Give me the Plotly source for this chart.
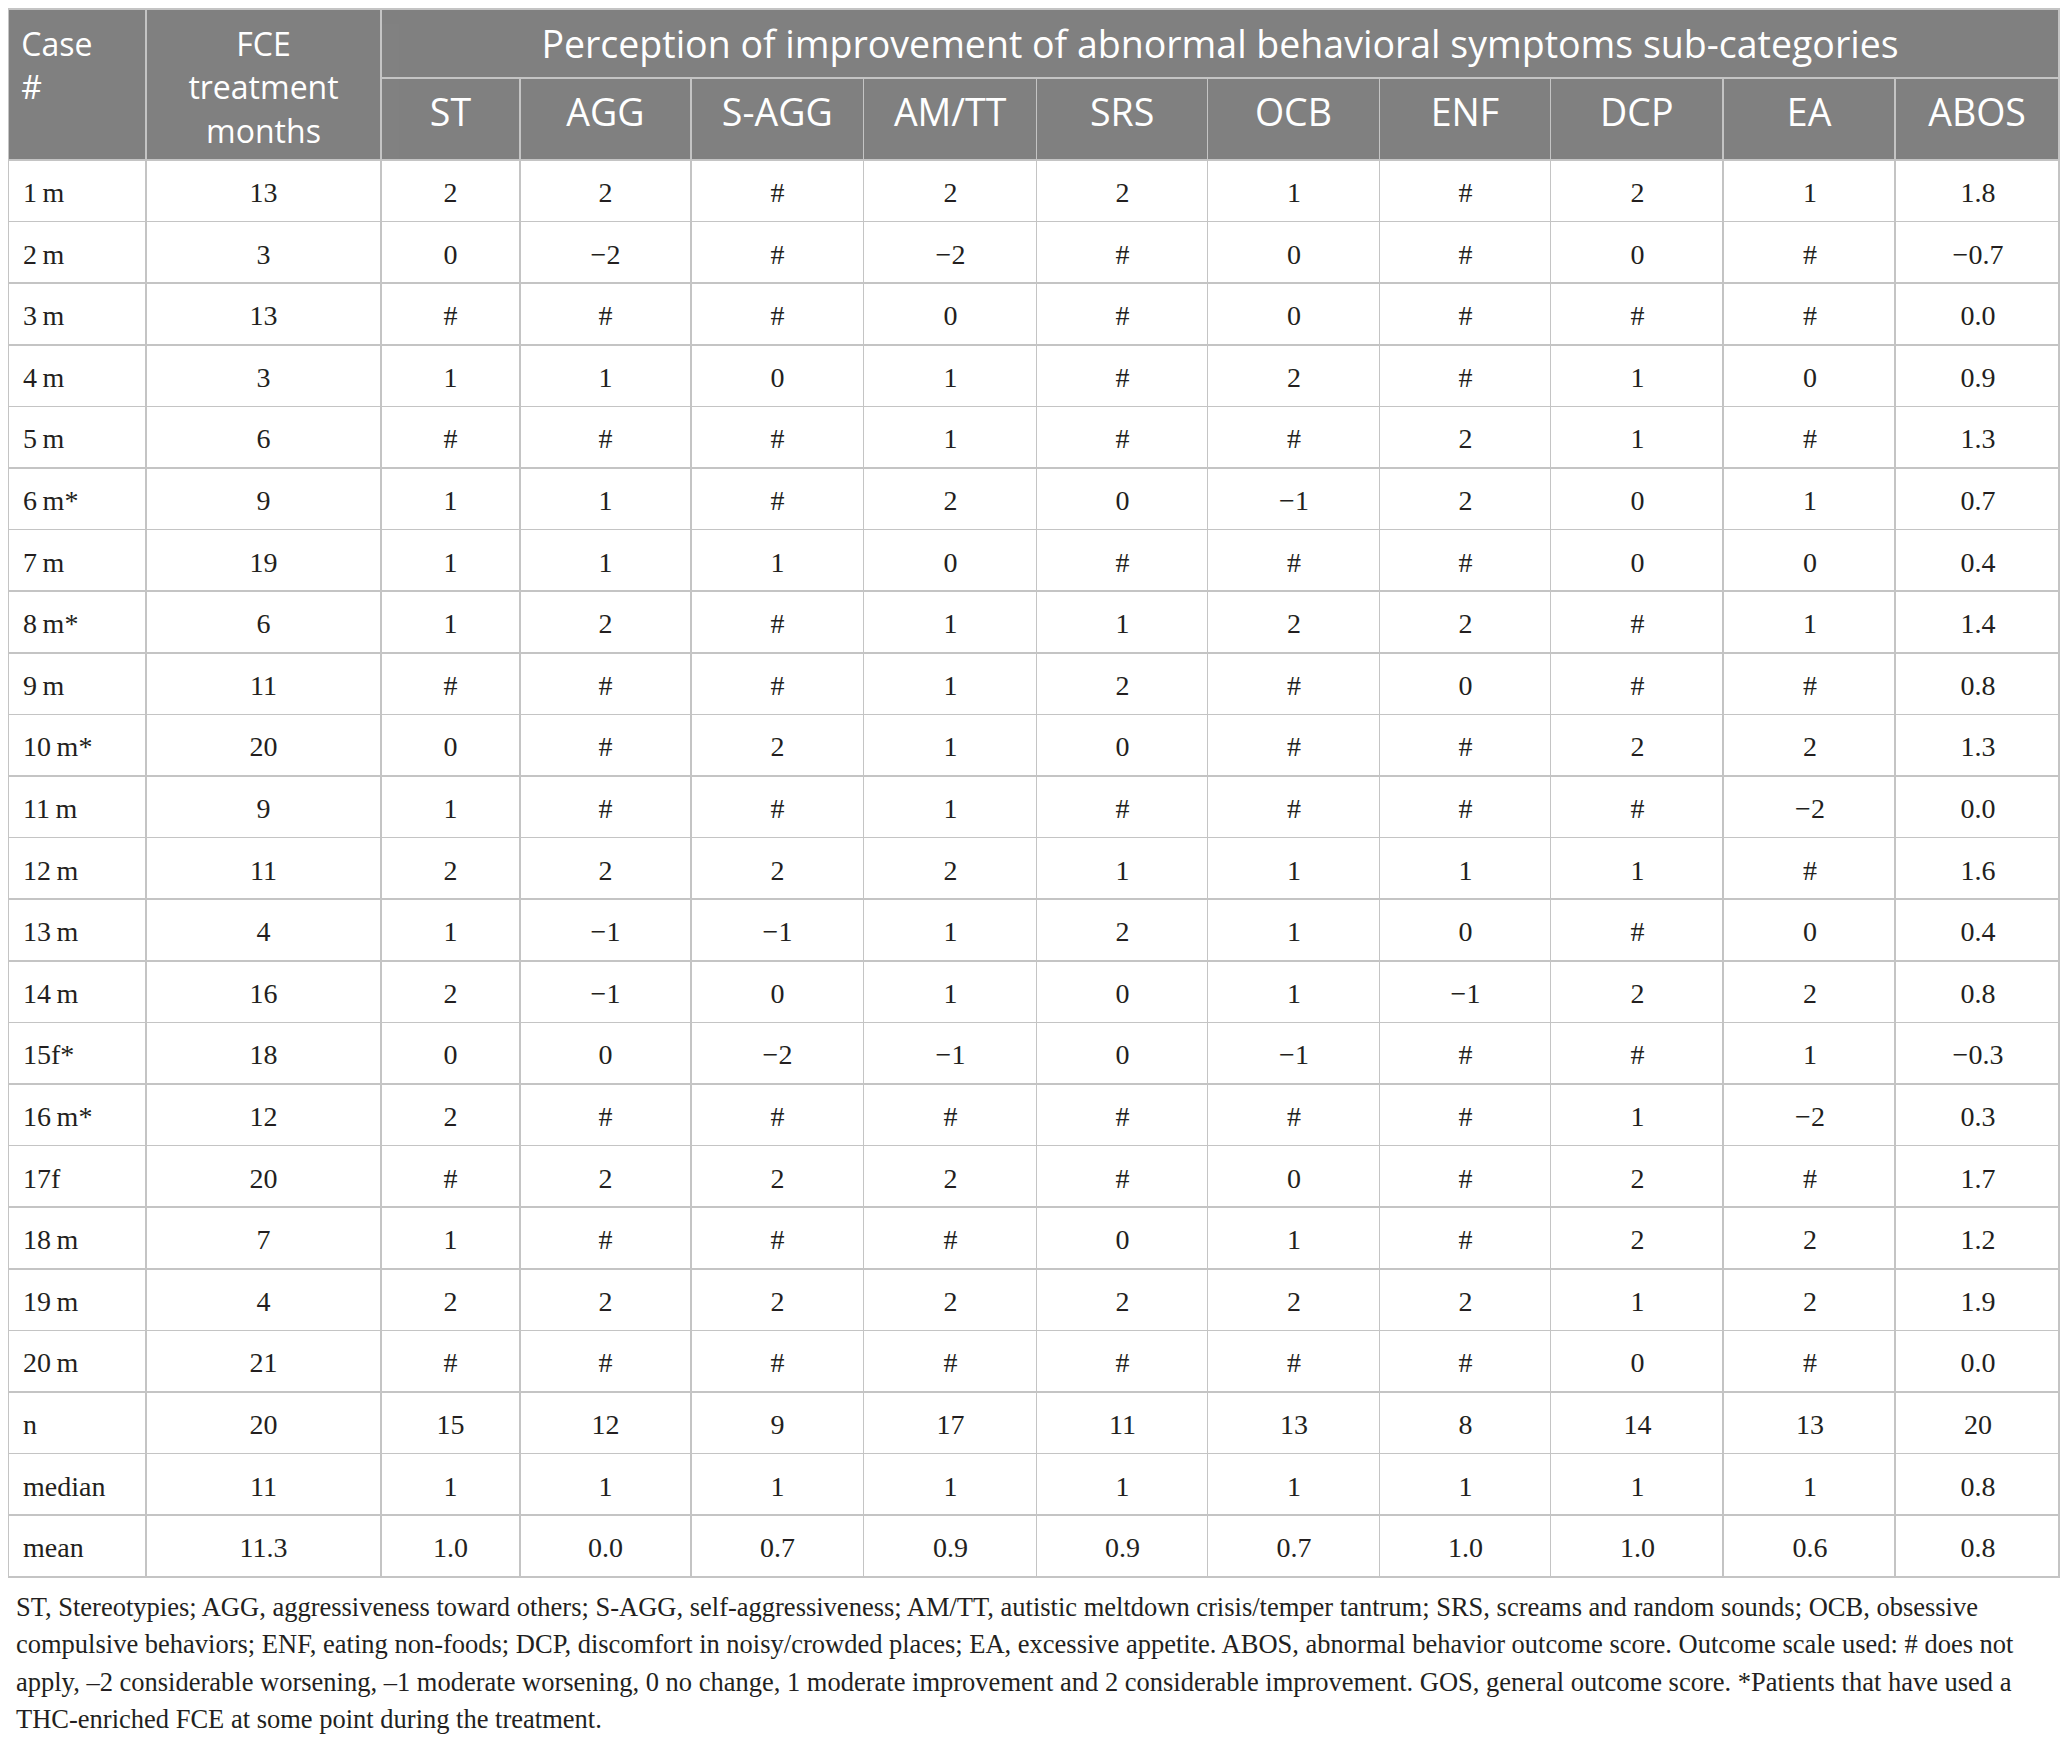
import plotly.graph_objects as go

# table content
cases = ["1\u2009m", "2\u2009m", "3\u2009m", "4\u2009m", "5\u2009m", "6\u2009m*", "7\u2009m", "8\u2009m*", "9\u2009m",
         "10\u2009m*", "11\u2009m", "12\u2009m", "13\u2009m", "14\u2009m", "15f*", "16\u2009m*", "17f", "18\u2009m",
         "19\u2009m", "20\u2009m", "n", "median", "mean"]
fce_months = ["13", "3", "13", "3", "6", "9", "19", "6", "11", "20", "9", "11", "4", "16", "18", "12", "20", "7",
              "4", "21", "20", "11", "11.3"]

sub_categories = ["ST", "AGG", "S-AGG", "AM/TT", "SRS", "OCB", "ENF", "DCP", "EA", "ABOS"]

st = ["2", "0", "#", "1", "#", "1", "1", "1", "#", "0", "1", "2", "1", "2", "0", "2", "#", "1", "2", "#", "15", "1", "1.0"]
agg = ["2", "−2", "#", "1", "#", "1", "1", "2", "#", "#", "#", "2", "−1", "−1", "0", "#", "2", "#", "2", "#", "12", "1", "0.0"]
s_agg = ["#", "#", "#", "0", "#", "#", "1", "#", "#", "2", "#", "2", "−1", "0", "−2", "#", "2", "#", "2", "#", "9", "1", "0.7"]
am_tt = ["2", "−2", "0", "1", "1", "2", "0", "1", "1", "1", "1", "2", "1", "1", "−1", "#", "2", "#", "2", "#", "17", "1", "0.9"]
srs = ["2", "#", "#", "#", "#", "0", "#", "1", "2", "0", "#", "1", "2", "0", "0", "#", "#", "0", "2", "#", "11", "1", "0.9"]
ocb = ["1", "0", "0", "2", "#", "−1", "#", "2", "#", "#", "#", "1", "1", "1", "−1", "#", "0", "1", "2", "#", "13", "1", "0.7"]
enf = ["#", "#", "#", "#", "2", "2", "#", "2", "0", "#", "#", "1", "0", "−1", "#", "#", "#", "#", "2", "#", "8", "1", "1.0"]
dcp = ["2", "0", "#", "1", "1", "0", "0", "#", "#", "2", "#", "1", "#", "2", "#", "1", "2", "2", "1", "0", "14", "1", "1.0"]
ea = ["1", "#", "#", "0", "#", "1", "0", "1", "#", "2", "−2", "#", "0", "2", "1", "−2", "#", "2", "2", "#", "13", "1", "0.6"]
abos = ["1.8", "−0.7", "0.0", "0.9", "1.3", "0.7", "0.4", "1.4", "0.8", "1.3", "0.0", "1.6", "0.4", "0.8", "−0.3",
        "0.3", "1.7", "1.2", "1.9", "0.0", "20", "0.8", "0.8"]

case_header = ["Case", "#", ""]
fce_header = ["FCE", "treatment", "months"]
group_title = "Perception of improvement of abnormal behavioral symptoms sub-categories"

footnote_lines = [
    "ST, Stereotypies; AGG, aggressiveness toward others; S-AGG, self-aggressiveness; AM/TT, autistic meltdown "
    "crisis/temper tantrum; SRS, screams and random sounds; OCB, obsessive",
    "compulsive behaviors; ENF, eating non-foods; DCP, discomfort in noisy/crowded places; EA, excessive appetite. "
    "ABOS, abnormal behavior outcome score. Outcome scale used: # does not",
    "apply, –2 considerable worsening, –1 moderate worsening, 0 no change, 1 moderate improvement and 2 considerable "
    "improvement. GOS, general outcome score. *Patients that have used a",
    "THC-enriched FCE at some point during the treatment.",
]

# layout / style
W, H = 2052, 1731
COL_W = [138, 235, 139, 171, 173, 173, 171, 172, 171, 173, 172, 164]
TOP = 1
HEAD1, HEAD2 = 69, 82
ROW_H = 61.6
# plotly tables put text at the top of a cell, so text layers are laid over the grid a little lower
SHIFT_CASE, SHIFT_GROUP, SHIFT_SUB, SHIFT_CELL = 14.5, 12.5, 11.5, 13
HEAD_LINE_H = 43.5
NOTE_TOP = 1580
NOTE_H = 37.5

HEAD_FILL = "#808080"
LINE_COL = "#c4c4c4"
CLEAR = "rgba(0,0,0,0)"
TXT_COL = "#231f20"
HEAD_FONT = dict(family="Open Sans", size=37.5, color="white")
STACK_FONT = dict(family="Open Sans", size=32, color="white")
BODY_FONT = dict(family="Liberation Serif", size=28, color=TXT_COL)

split_x = sum(COL_W[:2]) / W
n_rows = len(cases)
grid_line = dict(color=LINE_COL, width=1.5)
no_line = dict(color=CLEAR, width=0)


def yfrac(px):
     return 1 - px / H


fig = go.Figure()

# ---- grid (fills and rules) ----
fig.add_trace(go.Table(
     domain=dict(x=[0, split_x], y=[0, yfrac(TOP)]),
     columnwidth=COL_W[:2],
     header=dict(values=["", ""], fill_color=HEAD_FILL, line=grid_line, height=HEAD1 + HEAD2),
     cells=dict(values=[[""] * n_rows] * 2, fill_color="white", line=grid_line, height=ROW_H),
))
fig.add_trace(go.Table(
     domain=dict(x=[split_x, 1], y=[0, yfrac(TOP)]),
     columnwidth=[1],
     header=dict(values=[""], fill_color=HEAD_FILL, line=grid_line, height=HEAD1),
     cells=dict(values=[[]]),
))
fig.add_trace(go.Table(
     domain=dict(x=[split_x, 1], y=[0, yfrac(TOP + HEAD1)]),
     columnwidth=COL_W[2:],
     header=dict(values=[""] * len(sub_categories), fill_color=HEAD_FILL, line=grid_line, height=HEAD2),
     cells=dict(values=[[""] * n_rows] * len(sub_categories), fill_color="white", line=grid_line, height=ROW_H),
))

# ---- text layers ----
fig.add_trace(go.Table(
     domain=dict(x=[0, split_x], y=[0, yfrac(TOP + SHIFT_CASE)]),
     columnwidth=COL_W[:2],
     header=dict(values=[["\u2009" + v for v in case_header], fce_header], align=["left", "center"],
                 fill_color=CLEAR, line=no_line, font=STACK_FONT, height=HEAD_LINE_H),
     cells=dict(values=[[]]),
))
fig.add_trace(go.Table(
     domain=dict(x=[split_x, 1], y=[0, yfrac(TOP + SHIFT_GROUP)]),
     columnwidth=[1],
     header=dict(values=[group_title], align="center", fill_color=CLEAR, line=no_line,
                 font=HEAD_FONT, height=HEAD1),
     cells=dict(values=[[]]),
))
fig.add_trace(go.Table(
     domain=dict(x=[split_x, 1], y=[0, yfrac(TOP + HEAD1 + SHIFT_SUB)]),
     columnwidth=COL_W[2:],
     header=dict(values=sub_categories, align="center", fill_color=CLEAR, line=no_line,
                 font=HEAD_FONT, height=HEAD2),
     cells=dict(values=[[]]),
))
fig.add_trace(go.Table(
     domain=dict(x=[0, 1], y=[0, yfrac(TOP + HEAD1 + HEAD2 + SHIFT_CELL)]),
     columnwidth=COL_W,
     header=dict(values=[""] * len(COL_W), fill_color=CLEAR, line=no_line, height=0),
     cells=dict(values=[["\u00a0" + c for c in cases], fce_months, st, agg, s_agg, am_tt, srs, ocb, enf, dcp, ea, abos],
                align=["left"] + ["center"] * 11, fill_color=CLEAR, line=no_line, font=BODY_FONT, height=ROW_H),
))

# footnote as a borderless one-column table (keeps the line spacing)
fig.add_trace(go.Table(
     domain=dict(x=[0, 1], y=[0, yfrac(NOTE_TOP)]),
     header=dict(values=[""], height=0, fill_color=CLEAR, line=no_line),
     cells=dict(values=[footnote_lines], align="left", fill_color=CLEAR, line=no_line,
                font=dict(family="Liberation Serif", size=26.5, color=TXT_COL), height=NOTE_H),
))

fig.update_layout(width=W, height=H, margin=dict(l=0, r=0, t=0, b=0),
                  paper_bgcolor="white", plot_bgcolor="white")

fig.write_html("out.html")
